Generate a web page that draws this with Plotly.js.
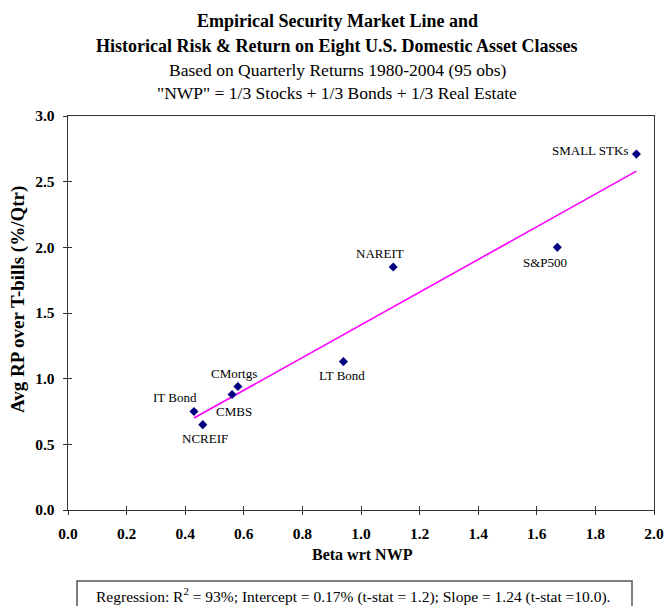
<!DOCTYPE html>
<html>
<head>
<meta charset="utf-8">
<script src="https://cdn.plot.ly/plotly-3.0.1.min.js"></script>
<style>html,body{margin:0;padding:0;background:#fff;}#chart{width:665px;height:606px;}</style>
</head>
<body>
<div id="chart"></div>
<script>
// ---- data ----
const assetNames = ["SMALL STKs", "S&P500", "NAREIT", "LT Bond", "CMortgs", "CMBS", "IT Bond", "NCREIF"];
const betaValues = [1.94, 1.67, 1.11, 0.94, 0.58, 0.56, 0.43, 0.46];
const avgRiskPremium = [2.71, 2.00, 1.85, 1.13, 0.94, 0.88, 0.75, 0.65];
const smlLineX = [0.43, 1.94];
const smlLineY = [0.70, 2.58];
const xTickVals = [0, 0.2, 0.4, 0.6, 0.8, 1.0, 1.2, 1.4, 1.6, 1.8, 2.0];
const xTickText = ["0.0", "0.2", "0.4", "0.6", "0.8", "1.0", "1.2", "1.4", "1.6", "1.8", "2.0"];
const yTickVals = [0, 0.5, 1.0, 1.5, 2.0, 2.5, 3.0];
const yTickText = ["0.0", "0.5", "1.0", "1.5", "2.0", "2.5", "3.0"];
const titleLines = [
  "<b>Empirical Security Market Line and</b>",
  "<b>Historical Risk &amp; Return on Eight U.S. Domestic Asset Classes</b>",
  "Based on Quarterly Returns 1980-2004 (95 obs)",
  "\"NWP\" = 1/3 Stocks + 1/3 Bonds + 1/3 Real Estate"
];
const yTitle = "<b>Avg RP over T-bills (%/Qtr)</b>";
const xTitle = "<b>Beta wrt NWP</b>";
const regressionNote = "Regression: R<sup>2</sup> = 93%; Intercept = 0.17% (t-stat = 1.2); Slope = 1.24 (t-stat =10.0).";

// ---- label placement (style) ----
const labelShift = [
  {xs: -46, ys: 4},   // SMALL STKs
  {xs: -12, ys: -15}, // S&P500
  {xs: -13, ys: 14},  // NAREIT
  {xs: -1, ys: -14},  // LT Bond
  {xs: -4, ys: 13},   // CMortgs
  {xs: 2, ys: -17},   // CMBS
  {xs: -19, ys: 14},  // IT Bond
  {xs: 2, ys: -14}    // NCREIF
];

const serif = "Liberation Serif, Times New Roman, serif";

// plot area pixels: x 68..654, y 116..510
const L = 68, R = 654, T = 116, B = 510;
const pxToPaperY = py => (B - py) / (B - T);
const pxToPaperX = px => (px - L) / (R - L);

const traces = [
  {
    x: smlLineX, y: smlLineY, type: "scatter", mode: "lines",
    line: {color: "#FF00FF", width: 1.6}, hoverinfo: "skip", showlegend: false
  },
  {
    x: betaValues, y: avgRiskPremium, type: "scatter", mode: "markers",
    marker: {symbol: "diamond", size: 7, color: "#000080"},
    text: assetNames, showlegend: false
  },
  {x: [0], y: [0], xaxis: "x2", yaxis: "y2", mode: "markers", marker: {opacity: 0}, showlegend: false, hoverinfo: "skip"}
];

const annotations = [];
const titleY = [21, 46, 70, 93];
const titleSize = [18, 18, 17.5, 17.5];
titleLines.forEach((t, i) => {
  annotations.push({
    text: t, xref: "paper", yref: "paper", x: pxToPaperX(337), y: pxToPaperY(titleY[i]),
    xanchor: "center", yanchor: "middle", showarrow: false,
    font: {family: serif, size: titleSize[i], color: "#000"}
  });
});
assetNames.forEach((n, i) => {
  annotations.push({
    text: n, x: betaValues[i], y: avgRiskPremium[i], xref: "x", yref: "y",
    showarrow: false, xanchor: "center", yanchor: "middle",
    xshift: labelShift[i].xs, yshift: labelShift[i].ys,
    font: {family: serif, size: 13, color: "#000"}
  });
});
annotations.push({
  text: yTitle, xref: "paper", yref: "paper", x: pxToPaperX(18), y: pxToPaperY(300),
  xanchor: "center", yanchor: "middle", textangle: -90, showarrow: false,
  font: {family: serif, size: 19, color: "#000"}
});
annotations.push({
  text: xTitle, xref: "paper", yref: "paper", x: pxToPaperX(362), y: pxToPaperY(554),
  xanchor: "center", yanchor: "middle", showarrow: false,
  font: {family: serif, size: 16, color: "#000"}
});
annotations.push({
  text: regressionNote, xref: "paper", yref: "paper",
  x: pxToPaperX(353), y: pxToPaperY(595), xanchor: "center", yanchor: "middle",
  showarrow: false, font: {family: serif, size: 15.5, color: "#000"}
});

const axisCommon = {
  showgrid: false, zeroline: false, showline: true, linecolor: "#333", linewidth: 1.3,
  mirror: true, ticks: "outside", ticklen: 4, tickcolor: "#333", tickwidth: 1,
  ticklabeloverflow: "allow",
  tickfont: {family: serif, size: 15.5, color: "#000", weight: "bold"}
};

const layout = {
  width: 665, height: 606,
  margin: {l: L, r: 665 - R, t: T, b: 606 - B},
  paper_bgcolor: "#fff", plot_bgcolor: "#fff",
  showlegend: false,
  xaxis: Object.assign({}, axisCommon, {
    range: [0, 2], tickvals: xTickVals, ticktext: xTickText, ticklabelstandoff: 5
  }),
  yaxis: Object.assign({}, axisCommon, {
    range: [0, 3], tickvals: yTickVals, ticktext: yTickText, ticklabelstandoff: 5
  }),
  xaxis2: {overlaying: "x", matches: "x", range: [0, 2], tickvals: xTickVals, showticklabels: false,
    ticks: "inside", ticklen: 4, tickcolor: "#333", showline: false, showgrid: false, zeroline: false, side: "bottom"},
  yaxis2: {overlaying: "y", matches: "y", range: [0, 3], tickvals: yTickVals, showticklabels: false,
    ticks: "inside", ticklen: 4, tickcolor: "#333", showline: false, showgrid: false, zeroline: false, side: "left"},
  shapes: [{
    type: "rect", xref: "paper", yref: "paper",
    x0: pxToPaperX(77), x1: pxToPaperX(632), y0: pxToPaperY(612), y1: pxToPaperY(581),
    line: {color: "#555", width: 1.5}, fillcolor: "rgba(0,0,0,0)"
  }],
  annotations: annotations
};

Plotly.newPlot("chart", traces, layout, {displayModeBar: false, staticPlot: true});
</script>
</body>
</html>
